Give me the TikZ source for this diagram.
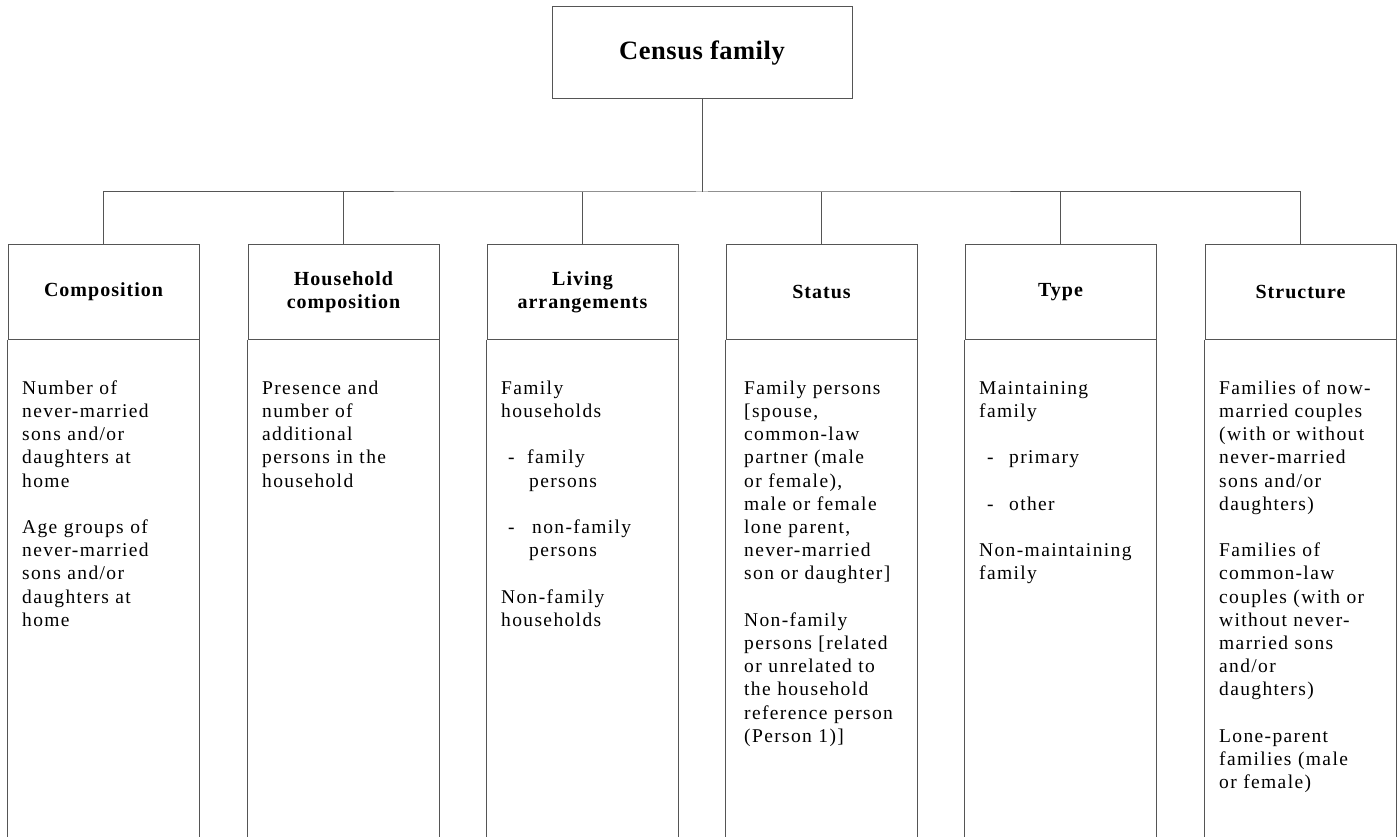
\documentclass[tikz,border=0pt]{standalone}
\usepackage{fontspec}
\setmainfont{Liberation Serif}[LetterSpace=7]
\definecolor{linegray}{RGB}{85,85,85}
\tikzset{
  boxline/.style={draw=linegray, line width=1pt},
  titlebox/.style={boxline, minimum width=300pt, minimum height=92pt, inner sep=0pt,
     font=\fontsize{26.5}{30}\selectfont\bfseries\addfontfeatures{LetterSpace=2}},
  hdrbox/.style={boxline, minimum width=191pt, minimum height=94pt, inner sep=0pt,
     align=center, font=\fontsize{20}{23}\selectfont\bfseries\addfontfeatures{LetterSpace=5}},
  bodytext/.style={anchor=north west, inner sep=0pt, text width=185pt, align=left,
     font=\fontsize{19.5}{23.2}\selectfont},
  conn/.style={draw=linegray, line width=1pt}
}
\begin{document}
\begin{tikzpicture}[x=1pt,y=-1pt]
\useasboundingbox (0,0) rectangle (1398,837);
% title
\node[titlebox] (top) at (702,53) {Census family};
\coordinate (bus) at (702,192);
% headers
\node[hdrbox] (h1) at (103.5,292) {Composition};
\node[hdrbox] (h2) at (343.5,292) {Household\\composition};
\node[hdrbox] (h3) at (582.5,292) {Living\\arrangements};
\node[hdrbox] (h4) at (821.5,292) {Status};
\node[hdrbox] (h5) at (1060.5,292) {Type};
\node[hdrbox] (h6) at (1300.5,292) {Structure};
% column sides
\foreach \h in {h1,h2,h3,h4,h5,h6}{
  \draw[conn] (\h.south west) -- (\h.south west |- 0,840);
  \draw[conn] (\h.south east) -- (\h.south east |- 0,840);
}
% connectors
\draw[conn] (top.south) -- (bus);
\draw[conn] (h1.north) |- (bus) -| (h6.north);
\foreach \h in {h2,h3,h4,h5}{
  \draw[conn] (\h.north) -- (\h.north |- bus);
}
% body texts
\node[bodytext] (b1) at (22,377.8) {\strut Number of\\never-married\\sons and/or\\daughters at\\home\\[23.2pt]Age groups of\\never-married\\sons and/or\\daughters at\\home};
\node[bodytext] (b2) at (262,377.8) {\strut Presence and\\number of\\additional\\persons in the\\household};
\node[bodytext] (b3) at (501,377.8) {\strut Family\\households\\[23.2pt]\makebox[26pt][l]{\hspace*{7pt}-}family\\\hspace*{28pt}persons\\[23.2pt]\makebox[31pt][l]{\hspace*{7pt}-}non-family\\\hspace*{28pt}persons\\[23.2pt]Non-family\\households};
\node[bodytext] (b4) at (744,377.8) {\strut Family persons\\{[}spouse,\\common-law\\partner (male\\or female),\\male or female\\lone parent,\\never-married\\son or daughter]\\[23.2pt]Non-family\\persons [related\\or unrelated to\\the household\\reference person\\(Person 1)]};
\node[bodytext] (b5) at (979,377.8) {\strut Maintaining\\family\\[23.2pt]\makebox[30pt][l]{\hspace*{8pt}-}primary\\[23.2pt]\makebox[30pt][l]{\hspace*{8pt}-}other\\[23.2pt]Non-maintaining\\family};
\node[bodytext] (b6) at (1219,377.8) {\strut Families of now-\\married couples\\(with or without\\never-married\\sons and/or\\daughters)\\[23.2pt]Families of\\common-law\\couples (with or\\without never-\\married sons\\and/or\\daughters)\\[23.2pt]Lone-parent\\families (male\\or female)};
\end{tikzpicture}
\end{document}
